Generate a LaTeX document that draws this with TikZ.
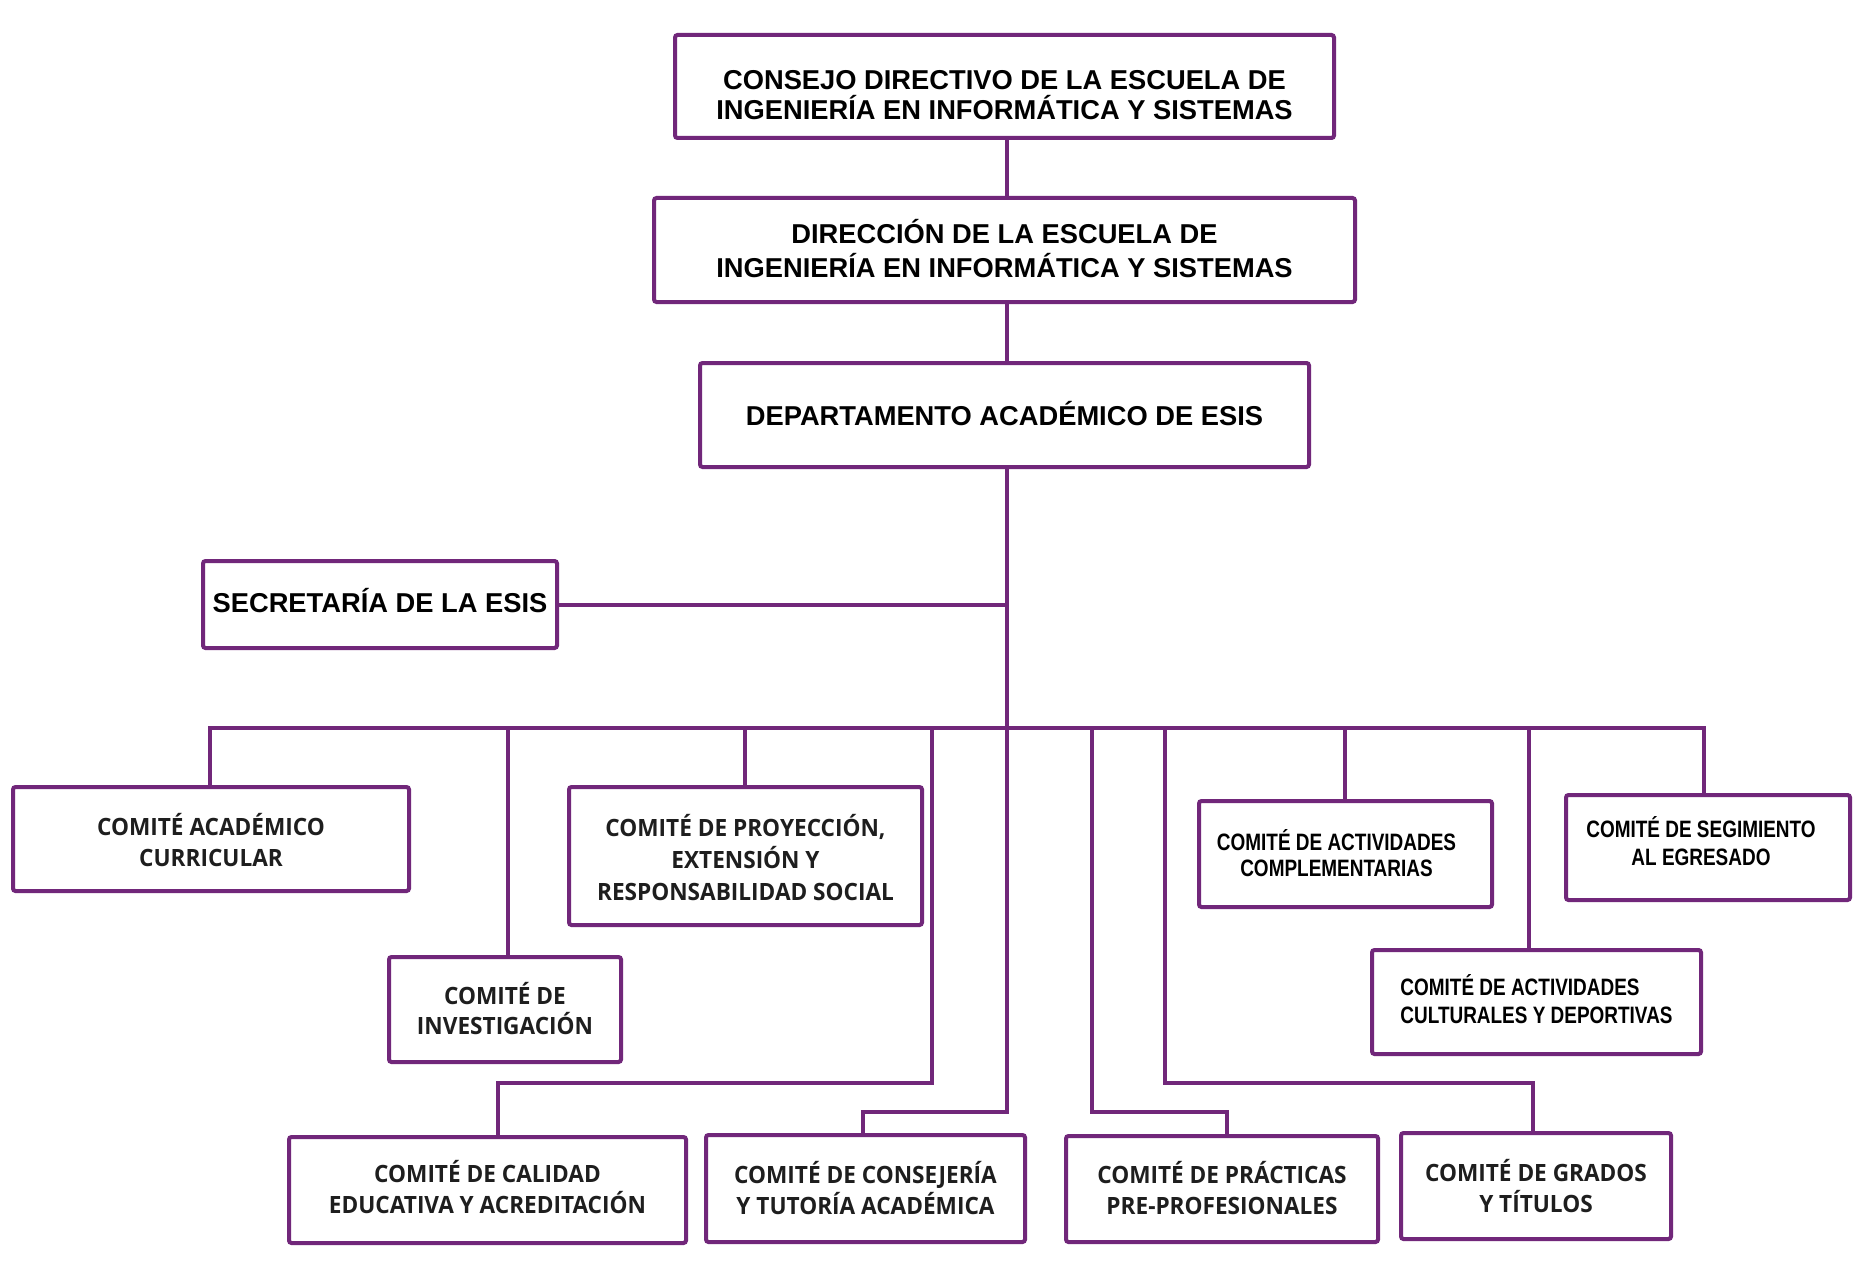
\documentclass[tikz,border=0pt]{standalone}
\usepackage{fontspec}
\newfontfamily\fa{Liberation Sans}
\newfontfamily\fac{Liberation Sans}[FakeStretch=0.8]
\newfontfamily\fo{Open Sans}[FakeStretch=0.95]
\definecolor{org}{RGB}{113,39,122}
\definecolor{txt}{RGB}{30,30,30}
\begin{document}
\begin{tikzpicture}[x=1pt,y=-1pt,
  box/.style={draw=org, line width=4pt, rounded corners=2.5pt, inner sep=0pt, align=center},
  lnk/.style={draw=org, line width=4pt},
  fA/.style={font={\fa\bfseries\fontsize{27.3pt}{#1pt}\selectfont}, text=black},
  fC/.style={font={\fac\bfseries\fontsize{23.7pt}{#1pt}\selectfont}, text=black},
  fO/.style={font={\fo\bfseries\fontsize{23.8pt}{#1pt}\selectfont}, text=txt},
  tb/.style 2 args={text height=#1pt, text depth=#2pt}]
\useasboundingbox (0,0) rectangle (1864,1284);
\fill[white] (0,0) rectangle (1864,1284);

% boxes
\node[box, fA=29.5, tb={83}{17}, minimum width=659pt, minimum height=103pt] (consejo) at (1004.5,86.5)
  {CONSEJO DIRECTIVO DE LA ESCUELA DE\\INGENIERÍA EN INFORMÁTICA Y SISTEMAS};
\node[box, fA=34, tb={77}{23}, minimum width=701pt, minimum height=104pt] (direccion) at (1004.5,250)
  {DIRECCIÓN DE LA ESCUELA DE\\INGENIERÍA EN INFORMÁTICA Y SISTEMAS};
\node[box, fA=30, tb={60}{40}, minimum width=609pt, minimum height=104pt] (depto) at (1004.5,415)
  {DEPARTAMENTO ACADÉMICO DE ESIS};
\node[box, fA=30, tb={47.5}{32.5}, minimum width=354pt, minimum height=87pt] (secretaria) at (380,604.5)
  {SECRETARÍA DE LA ESIS};
\node[box, fO=31, tb={77}{23}, minimum width=396pt, minimum height=104pt] (academico) at (211,839)
  {COMITÉ ACADÉMICO\\CURRICULAR};
\node[box, fO=30, tb={75}{25}, minimum width=232pt, minimum height=105pt] (investigacion) at (505,1009.5)
  {COMITÉ DE\\INVESTIGACIÓN};
\node[box, fO=32, tb={94}{6}, minimum width=353pt, minimum height=138pt] (proyeccion) at (745.5,856)
  {COMITÉ DE PROYECCIÓN,\\EXTENSIÓN Y\\RESPONSABILIDAD SOCIAL};
\node[box, fO=31, tb={73.5}{26.5}, minimum width=397pt, minimum height=106pt] (calidad) at (487.5,1190)
  {COMITÉ DE CALIDAD\\EDUCATIVA Y ACREDITACIÓN};
\node[box, fO=31, tb={75.5}{24.5}, minimum width=319pt, minimum height=107pt] (consejeria) at (865.5,1188.5)
  {COMITÉ DE CONSEJERÍA\\Y TUTORÍA ACADÉMICA};
\node[box, fO=31, tb={75}{25}, minimum width=312pt, minimum height=106pt] (practicas) at (1222,1189)
  {COMITÉ DE PRÁCTICAS\\PRE-PROFESIONALES};
\node[box, fO=31, tb={76}{24}, minimum width=270pt, minimum height=106pt] (grados) at (1536,1186)
  {COMITÉ DE GRADOS\\Y TÍTULOS};
\node[box, fC=26, tb={72}{28}, minimum width=293pt, minimum height=106pt] (complementarias) at (1345.5,854)
  {COMITÉ DE ACTIVIDADES\hspace*{18pt}\\COMPLEMENTARIAS\hspace*{18pt}};
\node[box, fC=28, tb={71.5}{28.5}, minimum width=329pt, minimum height=104pt, align=left] (culturales) at (1536.5,1002)
  {COMITÉ DE ACTIVIDADES\\CULTURALES Y DEPORTIVAS};
\node[box, fC=28.5, tb={68}{32}, minimum width=284pt, minimum height=105pt] (segimiento) at (1708,847.5)
  {COMITÉ DE SEGIMIENTO\hspace*{14pt}\\AL EGRESADO\hspace*{14pt}};

% connectors
\coordinate (tx) at (1007,0);
\coordinate (b1) at (210,728);
\coordinate (b2) at (508,728);
\coordinate (b3) at (745,728);
\coordinate (b4) at (932,728);
\coordinate (b5) at (1092,728);
\coordinate (b6) at (1165,728);
\coordinate (b7) at (1345,728);
\coordinate (b8) at (1529,728);
\coordinate (b9) at (1704,728);
\coordinate (k0) at (863,1112);
\coordinate (k4) at (498,1083);
\coordinate (k5) at (1227,1112);
\coordinate (k6) at (1533,1083);

\draw[lnk] (consejo.south -| tx) -- (direccion.north -| tx);
\draw[lnk] (direccion.south -| tx) -- (depto.north -| tx);
\draw[lnk] (depto.south -| tx) |- (k0) -- (k0 |- consejeria.north);
\draw[lnk] (secretaria.east) -- (secretaria.east -| tx);
\draw[lnk] (b1 |- academico.north) -- (b1) -- (b9) -- (b9 |- segimiento.north);
\draw[lnk] (b2) -- (b2 |- investigacion.north);
\draw[lnk] (b3) -- (b3 |- proyeccion.north);
\draw[lnk] (b4) |- (k4) -- (k4 |- calidad.north);
\draw[lnk] (b5) |- (k5) -- (k5 |- practicas.north);
\draw[lnk] (b6) |- (k6) -- (k6 |- grados.north);
\draw[lnk] (b7) -- (b7 |- complementarias.north);
\draw[lnk] (b8) -- (b8 |- culturales.north);
\end{tikzpicture}
\end{document}
